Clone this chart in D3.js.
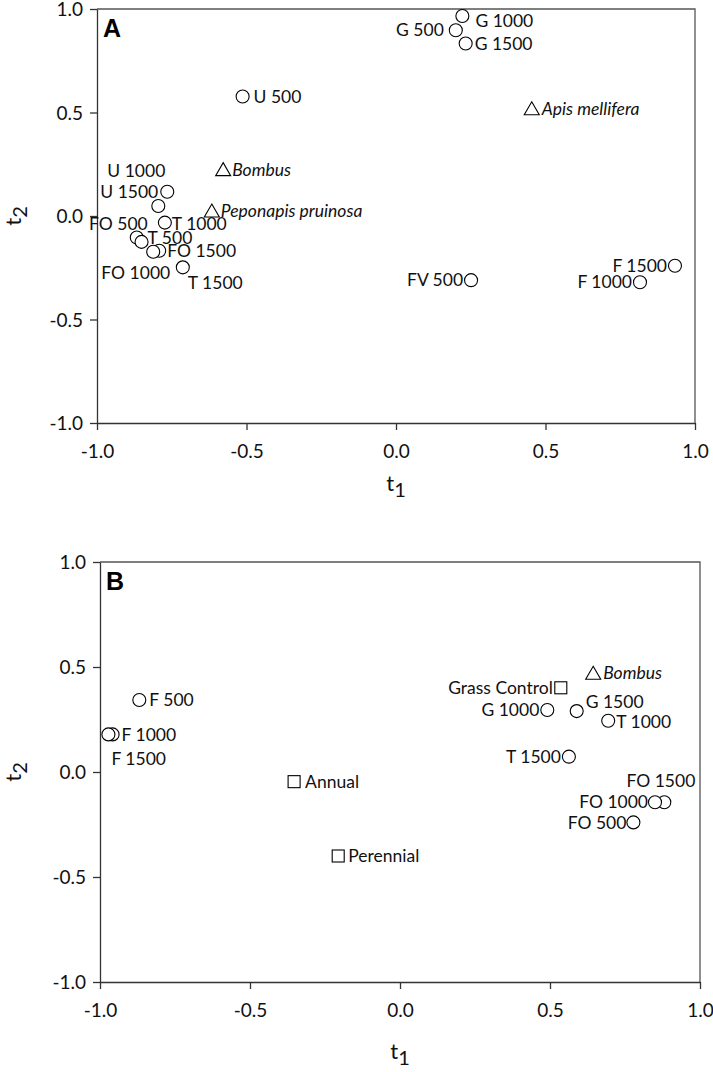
<!DOCTYPE html>
<html><head><meta charset="utf-8">
<script src="https://cdn.jsdelivr.net/npm/d3@7/dist/d3.min.js"></script>
<style>
html,body{margin:0;padding:0;background:#fff;}
svg{display:block;font-family:Lato, "Open Sans", sans-serif;}
</style></head>
<body>
<svg id="chart" width="713" height="1072"></svg>
<script>
// ---------- DATA ----------
const tickValues = [-1.0, -0.5, 0.0, 0.5, 1.0];
const tickLabels = ["-1.0", "-0.5", "0.0", "0.5", "1.0"];

// Panel A
const namesA  = ["G 1000","G 500","G 1500","Apis mellifera","U 500","Bombus","Peponapis pruinosa",
                 "U 1000","U 1500","T 1000","FO 500","T 500","FO 1500","FO 1000","T 1500",
                 "FV 500","F 1500","F 1000"];
const t1A     = [0.222, 0.200, 0.233, 0.454, -0.513, -0.578, -0.616,
                 -0.795, -0.765, -0.773, -0.867, -0.851, -0.792, -0.812, -0.713,
                 0.251, 0.933, 0.816];
const t2A     = [0.966, 0.897, 0.833, 0.518, 0.577, 0.224, 0.024,
                 0.048, 0.117, -0.032, -0.104, -0.125, -0.168, -0.173, -0.248,
                 -0.310, -0.240, -0.320];
const shapeA  = ["circle","circle","circle","triangle","circle","triangle","triangle",
                 "circle","circle","circle","circle","circle","circle","circle","circle",
                 "circle","circle","circle"];

// Panel B
const namesB  = ["Bombus","Grass Control","G 1000","G 1500","T 1000","T 1500",
                 "FO 1500","FO 1000","FO 500","F 500","F 1000","F 1500","Annual","Perennial"];
const t1B     = [0.644, 0.536, 0.491, 0.589, 0.694, 0.563,
                 0.881, 0.850, 0.778, -0.869, -0.958, -0.972, -0.353, -0.206];
const t2B     = [0.470, 0.401, 0.295, 0.290, 0.244, 0.073,
                 -0.144, -0.144, -0.240, 0.343, 0.179, 0.179, -0.046, -0.400];
const shapeB  = ["triangle","square","circle","circle","circle","circle",
                 "circle","circle","circle","circle","circle","circle","square","square"];

const italicNames = ["Apis mellifera","Bombus","Peponapis pruinosa"];

// ---------- LABEL PLACEMENT (layout only) ----------
// [anchor, dx, dy]
const labelPosA = {
  "G 1000":["start",13,5], "G 500":["end",-12,0], "G 1500":["start",9,0],
  "Apis mellifera":["start",10,0], "U 500":["start",11,0], "Bombus":["start",9,0],
  "Peponapis pruinosa":["start",9,0], "U 1000":["end",7,-35], "U 1500":["end",-9,0],
  "T 1000":["start",7,1], "FO 500":["end",11,-14], "T 500":["start",6,-4],
  "FO 1500":["start",8,0], "FO 1000":["end",17,21], "T 1500":["start",5,16],
  "FV 500":["end",-8,0], "F 1500":["end",-8,0], "F 1000":["end",-8,0]
};
const labelPosB = {
  "Bombus":["start",10,0], "Grass Control":["end",-8,0], "G 1000":["end",-8,0],
  "G 1500":["start",9,-9], "T 1000":["start",8,1], "T 1500":["end",-8,0],
  "FO 1500":["end",31,-21], "FO 1000":["end",-7,0], "FO 500":["end",-7,0],
  "F 500":["start",10,0], "F 1000":["start",9,0], "F 1500":["start",3,24],
  "Annual":["start",11,0], "Perennial":["start",10,0]
};

const svg = d3.select("#chart");

function drawPanel(cfg){
  const {left,right,top,bottom,letter,names,t1,t2,shapes,pos,titleGap} = cfg;
  const x = d3.scaleLinear().domain([-1,1]).range([left,right]);
  const y = d3.scaleLinear().domain([-1,1]).range([bottom,top]);
  const g = svg.append("g");

  // box (top/right)
  g.append("path")
    .attr("d",`M${left},${top}H${right}V${bottom}`)
    .attr("fill","none").attr("stroke","#555").attr("stroke-width",1.3);

  // axes
  const xAxis = d3.axisBottom(x).tickValues(tickValues)
      .tickFormat((d,i)=>tickLabels[i]).tickSize(7).tickSizeOuter(0);
  const yAxis = d3.axisLeft(y).tickValues(tickValues)
      .tickFormat((d,i)=>tickLabels[i]).tickSize(7).tickSizeOuter(0);
  const gx = g.append("g").attr("transform",`translate(0,${bottom})`).call(xAxis);
  const gy = g.append("g").attr("transform",`translate(${left},0)`).call(yAxis);
  [gx,gy].forEach(a=>{
    a.select(".domain").attr("stroke","#333").attr("stroke-width",1.3);
    a.selectAll(".tick line").attr("stroke","#333").attr("stroke-width",1.3);
    a.selectAll(".tick text").attr("fill","#111")
      .style("font-size","19px").style("font-family","Lato, sans-serif");
  });
  gx.selectAll(".tick text").attr("y",22);
  gy.selectAll(".tick text").attr("x",-14).attr("dy","0.36em");

  // axis titles
  const tx = g.append("text").attr("x",(left+right)/2).attr("y",bottom+titleGap)
    .attr("text-anchor","middle").style("font-size","22px").attr("fill","#111");
  tx.append("tspan").text("t");
  tx.append("tspan").attr("dy",6).style("font-size","20px").text("1");

  const ty = g.append("text")
    .attr("transform",`translate(21,${(top+bottom)/2}) rotate(-90)`)
    .attr("text-anchor","middle").style("font-size","22px").attr("fill","#111");
  ty.append("tspan").text("t");
  ty.append("tspan").attr("dy",6).style("font-size","20px").text("2");

  // panel letter
  g.append("text").attr("x",left+6).attr("y",top+28)
    .style("font-size","25px").style("font-weight","bold")
    .style("font-family","Arial, 'Liberation Sans', sans-serif").text(letter);

  // markers
  names.forEach((n,i)=>{
    const cx = x(t1[i]), cy = y(t2[i]);
    const s = shapes[i];
    if(s==="circle"){
      g.append("circle").attr("cx",cx).attr("cy",cy).attr("r",6.5)
        .attr("fill","#fff").attr("stroke","#000").attr("stroke-width",1.1);
    } else if(s==="square"){
      g.append("rect").attr("x",cx-6).attr("y",cy-6).attr("width",12).attr("height",12)
        .attr("fill","#fff").attr("stroke","#000").attr("stroke-width",1.1);
    } else {
      g.append("path")
        .attr("d",`M${cx},${cy-7}L${cx+7.5},${cy+6}L${cx-7.5},${cy+6}Z`)
        .attr("fill","#fff").attr("stroke","#000").attr("stroke-width",1.1);
    }
  });
  // labels
  names.forEach((n,i)=>{
    const cx = x(t1[i]), cy = y(t2[i]);
    const p = pos[n] || ["start",9,0];
    g.append("text").attr("x",cx+p[1]).attr("y",cy+p[2]).attr("dy","0.35em")
      .attr("text-anchor",p[0]).attr("fill","#111")
      .style("font-size","17.5px")
      .style("font-style", italicNames.includes(n) ? "italic" : "normal")
      .text(n);
  });
}

drawPanel({left:97,right:695,top:9,bottom:423,letter:"A",titleGap:68,
  names:namesA,t1:t1A,t2:t2A,shapes:shapeA,pos:labelPosA});
drawPanel({left:100,right:700,top:562,bottom:982,letter:"B",titleGap:77,
  names:namesB,t1:t1B,t2:t2B,shapes:shapeB,pos:labelPosB});
</script>
</body></html>
